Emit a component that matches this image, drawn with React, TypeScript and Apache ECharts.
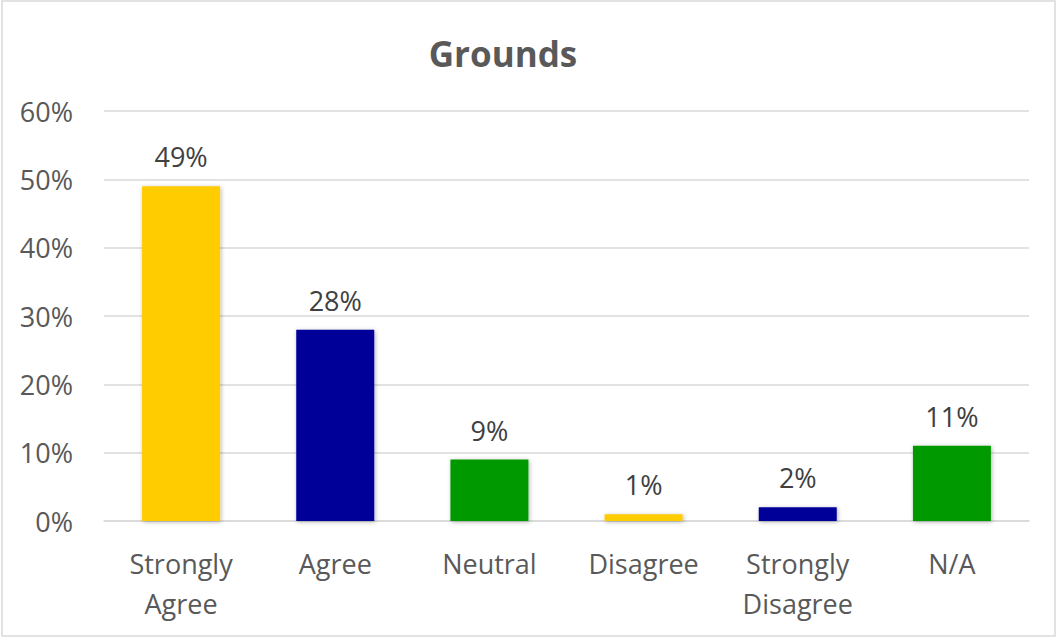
import React, { useEffect, useRef } from "react";
import * as echarts from "echarts";

const categories = ["Strongly\nAgree", "Agree", "Neutral", "Disagree", "Strongly\nDisagree", "N/A"];
const values = [49, 28, 9, 1, 2, 11];
const barColors = ["#FFCC00", "#000099", "#009900", "#FFCC00", "#000099", "#009900"];
const yTicks = [0, 10, 20, 30, 40, 50, 60];

export default function App() {
  const ref = useRef<HTMLDivElement>(null);
  useEffect(() => {
    document.body.style.margin = "0";
    const chart = echarts.init(ref.current!, undefined, { renderer: "svg" });
    const font = "'Open Sans', sans-serif";
    chart.setOption({
      animation: false,
      backgroundColor: "#ffffff",
      title: {
        text: "Grounds",
        left: 498,
        top: 31,
        textAlign: "center",
        textStyle: { fontFamily: font, fontSize: 35, fontWeight: "bold", color: "#595959" },
      },
      graphic: [
        {
          type: "rect",
          shape: { x: 2, y: 1, width: 1053, height: 635 },
          style: { fill: "none", stroke: "#d9d9d9", lineWidth: 1.5 },
          silent: true,
        },
      ],
      grid: { left: 104, right: 28, top: 111, bottom: 116, containLabel: false },
      xAxis: {
        type: "category",
        data: categories,
        axisLine: { show: true, lineStyle: { color: "#d9d9d9", width: 1.5 } },
        axisTick: { show: false },
        axisLabel: {
          fontFamily: font,
          fontSize: 27,
          color: "#595959",
          lineHeight: 40,
          margin: 22,
          interval: 0,
        },
      },
      yAxis: {
        type: "value",
        min: 0,
        max: 60,
        interval: 10,
        axisLine: { show: false },
        axisTick: { show: false },
        splitLine: { lineStyle: { color: "#d9d9d9", width: 1.5 } },
        axisLabel: {
          fontFamily: font,
          fontSize: 27,
          color: "#595959",
          margin: 31,
          formatter: (v: number) => (yTicks.includes(v) ? v + "%" : ""),
        },
      },
      series: [
        {
          type: "bar",
          barWidth: 78,
          data: values.map((v, i) => ({
            value: v,
            itemStyle: {
              color: barColors[i],
              shadowColor: "rgba(0,0,0,0.3)",
              shadowBlur: 4,
              shadowOffsetX: 1,
              shadowOffsetY: 1,
            },
          })),
          label: {
            show: true,
            position: "top",
            distance: 16,
            fontFamily: font,
            fontSize: 27,
            color: "#404040",
            formatter: (p: any) => p.value + "%",
          },
        },
      ],
    });
    return () => chart.dispose();
  }, []);
  return <div ref={ref} style={{ width: 1057, height: 637, position: "absolute", left: 0, top: 0 }} />;
}
